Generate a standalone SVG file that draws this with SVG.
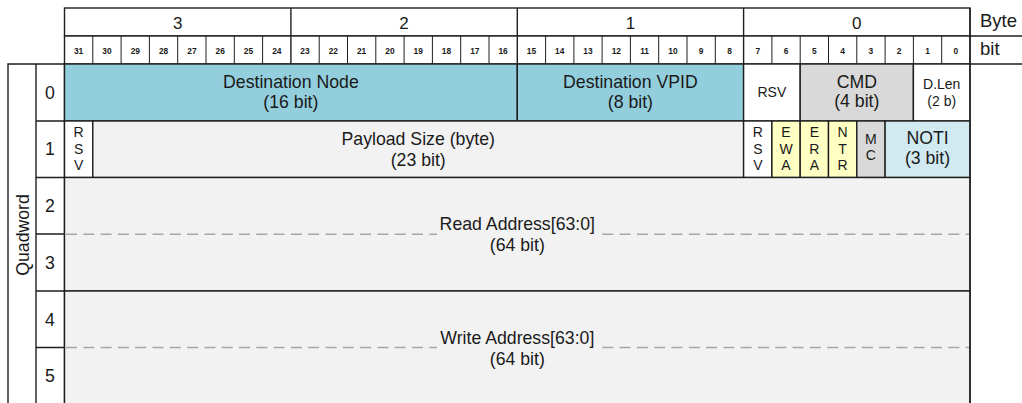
<svg xmlns="http://www.w3.org/2000/svg" width="1022" height="403" viewBox="0 0 1022 403">
  <style>
    .t { font-family: "Liberation Sans", Arial, sans-serif; fill: #1a1a1a; }
    .big { font-size: 17.7px; text-anchor: middle; }
    .mid { font-size: 14px; text-anchor: middle; }
    .bitn { font-size: 8.4px; font-weight: bold; text-anchor: middle; }
    .ln { stroke: #1e1e1e; stroke-width: 1.4; }
    path.ln, line.ln { fill: none; }
    .thin { stroke: #1e1e1e; stroke-width: 1; fill: none; }
    .dash { stroke: #a6a6a6; stroke-width: 1.4; stroke-dasharray: 11 6.3; fill: none; }
    .blue { fill: #93cedc; }
    .grey { fill: #d9d9d9; }
    .pale { fill: #f2f2f2; }
    .yel { fill: #ffffc4; }
    .lblue { fill: #d1e9f1; }
    .white { fill: #ffffff; }
  </style>

  <rect width="1022" height="403" fill="#ffffff"/>

  <!-- Byte header row -->
  <g id="byte-header">
    <rect x="64.5" y="8" width="905.5" height="28" class="ln white"/>
    <line x1="290.9" y1="8" x2="290.9" y2="36" class="ln"/>
    <line x1="517.3" y1="8" x2="517.3" y2="36" class="ln"/>
    <line x1="743.6" y1="8" x2="743.6" y2="36" class="ln"/>
    <text class="t" x="177.7" y="28.7" font-size="17" text-anchor="middle">3</text>
    <text class="t" x="404.1" y="28.7" font-size="17" text-anchor="middle">2</text>
    <text class="t" x="630.4" y="28.7" font-size="17" text-anchor="middle">1</text>
    <text class="t" x="856.8" y="28.7" font-size="17" text-anchor="middle">0</text>
  </g>

  <!-- Byte / bit legend on the right -->
  <g id="legend">
    <line x1="970" y1="36" x2="1022" y2="36" class="ln"/>
    <line x1="970" y1="64" x2="1022" y2="64" class="ln"/>
    <text class="t" x="980" y="27" font-size="18.5">Byte</text>
    <text class="t" x="980" y="55" font-size="18.5">bit</text>
  </g>

  <!-- Bit number row -->
  <g id="bit-header">
    <rect x="64.5" y="36" width="905.5" height="28" class="ln white"/>
    <path class="thin" d="M92.8 36V64M121.1 36V64M149.4 36V64M177.7 36V64M206 36V64M234.3 36V64M262.6 36V64
      M319.2 36V64M347.5 36V64M375.8 36V64M404.1 36V64M432.4 36V64M460.7 36V64M489 36V64
      M545.6 36V64M573.9 36V64M602.1 36V64M630.4 36V64M658.7 36V64M687 36V64M715.3 36V64
      M771.9 36V64M800.2 36V64M828.5 36V64M856.8 36V64M885.1 36V64M913.4 36V64M941.7 36V64"/>
    <path class="ln" d="M290.9 36V64M517.3 36V64M743.6 36V64"/>
    <g class="t bitn">
      <text x="78.6" y="54">31</text><text x="107" y="54">30</text><text x="135.3" y="54">29</text><text x="163.6" y="54">28</text>
      <text x="191.9" y="54">27</text><text x="220.2" y="54">26</text><text x="248.5" y="54">25</text><text x="276.8" y="54">24</text>
      <text x="305" y="54">23</text><text x="333.3" y="54">22</text><text x="361.6" y="54">21</text><text x="389.9" y="54">20</text>
      <text x="418.2" y="54">19</text><text x="446.5" y="54">18</text><text x="474.8" y="54">17</text><text x="503.1" y="54">16</text>
      <text x="531.4" y="54">15</text><text x="559.7" y="54">14</text><text x="588" y="54">13</text><text x="616.3" y="54">12</text>
      <text x="644.6" y="54">11</text><text x="672.9" y="54">10</text><text x="701.2" y="54">9</text><text x="729.5" y="54">8</text>
      <text x="757.8" y="54">7</text><text x="786" y="54">6</text><text x="814.3" y="54">5</text><text x="842.6" y="54">4</text>
      <text x="870.9" y="54">3</text><text x="899.2" y="54">2</text><text x="927.5" y="54">1</text><text x="955.8" y="54">0</text>
    </g>
  </g>

  <!-- Quadword axis -->
  <g id="quadword-axis">
    <path class="ln" d="M8 405V64H64.5V405M36 64V405"/>
    <path class="ln" d="M36 121H64.5M36 177.5H64.5M36 234H64.5M36 291H64.5M36 347.5H64.5"/>
    <text class="t big" transform="translate(28.5 235) rotate(-90)">Quadword</text>
    <text class="t big" x="50" y="98.7">0</text>
    <text class="t big" x="50" y="155.4">1</text>
    <text class="t big" x="50" y="212">2</text>
    <text class="t big" x="50" y="268.8">3</text>
    <text class="t big" x="50" y="325.5">4</text>
    <text class="t big" x="50" y="382.2">5</text>
  </g>

  <!-- Quadword 0 -->
  <g id="dest-node">
    <rect x="64.5" y="64" width="452.8" height="57" class="ln blue"/>
    <text class="t big" x="290.9" y="87.5">Destination Node</text>
    <text class="t big" x="290.9" y="108">(16 bit)</text>
  </g>
  <g id="dest-vpid">
    <rect x="517.3" y="64" width="226.3" height="57" class="ln blue"/>
    <text class="t big" x="630.4" y="87.5">Destination VPID</text>
    <text class="t big" x="630.4" y="108">(8 bit)</text>
  </g>
  <g id="rsv-q0">
    <rect x="743.6" y="64" width="56.6" height="57" class="ln white"/>
    <text class="t mid" x="771.9" y="97">RSV</text>
  </g>
  <g id="cmd">
    <rect x="800.2" y="64" width="113.2" height="57" class="ln grey"/>
    <text class="t big" x="856.8" y="88">CMD</text>
    <text class="t big" x="856.8" y="106.5">(4 bit)</text>
  </g>
  <g id="dlen">
    <rect x="913.4" y="64" width="56.6" height="57" class="ln white"/>
    <text class="t mid" x="941.7" y="88.5">D.Len</text>
    <text class="t mid" x="941.7" y="106">(2 b)</text>
  </g>

  <!-- Quadword 1 -->
  <g id="rsv-q1-hi">
    <rect x="64.5" y="121" width="28.3" height="56.5" class="ln white"/>
    <text class="t mid" x="78.6" y="137">R</text>
    <text class="t mid" x="78.6" y="153.5">S</text>
    <text class="t mid" x="78.6" y="170">V</text>
  </g>
  <g id="payload-size">
    <rect x="92.8" y="121" width="650.8" height="56.5" class="ln pale"/>
    <text class="t big" x="418.2" y="145">Payload Size (byte)</text>
    <text class="t big" x="418.2" y="166">(23 bit)</text>
  </g>
  <g id="rsv-q1-lo">
    <rect x="743.6" y="121" width="28.3" height="56.5" class="ln white"/>
    <text class="t mid" x="757.8" y="137">R</text>
    <text class="t mid" x="757.8" y="153.5">S</text>
    <text class="t mid" x="757.8" y="170">V</text>
  </g>
  <g id="ewa">
    <rect x="771.9" y="121" width="28.3" height="56.5" class="ln yel"/>
    <text class="t mid" x="786" y="137">E</text>
    <text class="t mid" x="786" y="153.5">W</text>
    <text class="t mid" x="786" y="170">A</text>
  </g>
  <g id="era">
    <rect x="800.2" y="121" width="28.3" height="56.5" class="ln yel"/>
    <text class="t mid" x="814.3" y="137">E</text>
    <text class="t mid" x="814.3" y="153.5">R</text>
    <text class="t mid" x="814.3" y="170">A</text>
  </g>
  <g id="ntr">
    <rect x="828.5" y="121" width="28.3" height="56.5" class="ln yel"/>
    <text class="t mid" x="842.6" y="137">N</text>
    <text class="t mid" x="842.6" y="153.5">T</text>
    <text class="t mid" x="842.6" y="170">R</text>
  </g>
  <g id="mc">
    <rect x="856.8" y="121" width="28.3" height="56.5" class="ln grey"/>
    <text class="t mid" x="870.9" y="143.5">M</text>
    <text class="t mid" x="870.9" y="159.5">C</text>
  </g>
  <g id="noti">
    <rect x="885.1" y="121" width="84.9" height="56.5" class="ln lblue"/>
    <text class="t big" x="927.5" y="143.5">NOTI</text>
    <text class="t big" x="927.5" y="164">(3 bit)</text>
  </g>

  <!-- Quadwords 2-3 -->
  <g id="read-address">
    <rect x="64.5" y="177.5" width="905.5" height="113.5" class="ln pale"/>
    <line x1="66" y1="234.3" x2="969" y2="234.3" class="dash"/>
    <rect x="437" y="226" width="162" height="11" class="pale"/>
    <text class="t big" x="517.3" y="230">Read Address[63:0]</text>
    <text class="t big" x="517.3" y="251">(64 bit)</text>
  </g>

  <!-- Quadwords 4-5 -->
  <g id="write-address">
    <rect x="64.5" y="291" width="905.5" height="120" class="ln pale"/>
    <line x1="66" y1="347.5" x2="969" y2="347.5" class="dash"/>
    <rect x="437" y="339" width="162" height="11" class="pale"/>
    <text class="t big" x="517.3" y="343.5">Write Address[63:0]</text>
    <text class="t big" x="517.3" y="365">(64 bit)</text>
  </g>

  <!-- right-hand border through all rows -->
  <line x1="970" y1="8" x2="970" y2="405" class="ln"/>
</svg>
